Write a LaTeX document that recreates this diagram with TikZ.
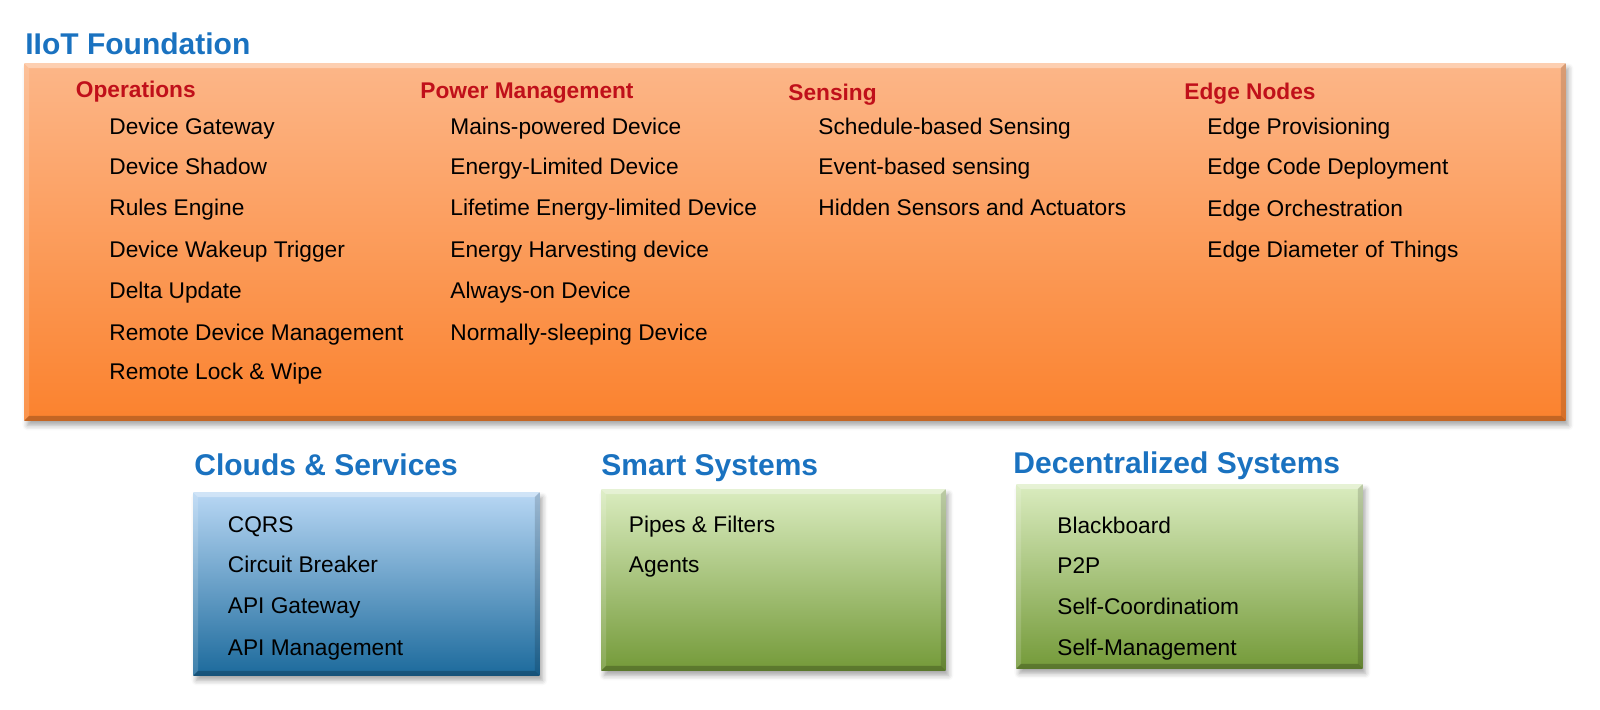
\documentclass[tikz,border=0pt]{standalone}
\usepackage{fontspec}
\setmainfont{Liberation Sans}
\usetikzlibrary{shadows.blur,calc}
\definecolor{ttlblue}{HTML}{1A72C0}
\definecolor{hdrred}{HTML}{C0101A}
\definecolor{orTop}{HTML}{FCB688}
\definecolor{orBot}{HTML}{FB822E}
\definecolor{blTop}{HTML}{B8D7F4}
\definecolor{blBot}{HTML}{1C6A9C}
\definecolor{grTop}{HTML}{DAECBF}
\definecolor{grBot}{HTML}{749A39}
\newcommand\bevelbox[1]{%
  \fill[white,opacity=.35] (#1.north west) -- (#1.north east) -- ($(#1.north east)+(-5,5)$) -- ($(#1.north west)+(5,5)$) -- cycle;
  \fill[white,opacity=.15] (#1.north west) -- ($(#1.north west)+(5,5)$) -- ($(#1.south west)+(5,-5)$) -- (#1.south west) -- cycle;
  \fill[black,opacity=.22] (#1.south west) -- ($(#1.south west)+(5,-5)$) -- ($(#1.south east)+(-5,-5)$) -- (#1.south east) -- cycle;
  \fill[black,opacity=.14] (#1.north east) -- (#1.south east) -- ($(#1.south east)+(-5,-5)$) -- ($(#1.north east)+(-5,5)$) -- cycle;
}
\begin{document}
\begin{tikzpicture}[x=0.5pt,y=-0.5pt,
  panel/.style={anchor=north west, inner sep=0pt, draw=none,
    blur shadow={shadow xshift=1.5pt, shadow yshift=-2.5pt, shadow blur radius=2.5pt, shadow opacity=35}},
  item/.style={anchor=base west, inner sep=0pt, font=\fontsize{11.35}{13}\selectfont, text=black},
  hdr/.style={anchor=base west, inner sep=0pt, font=\bfseries\fontsize{11.35}{13}\selectfont, text=hdrred},
  ttl/.style={anchor=base west, inner sep=0pt, font=\bfseries\fontsize{15}{18}\selectfont, text=ttlblue}]
\useasboundingbox (0,0) rectangle (1600,709);

% panels
\node[panel, minimum width=770.5pt, minimum height=178.5pt, top color=orTop, bottom color=orBot] (foundation) at (24,63) {};
\bevelbox{foundation}
\node[panel, minimum width=173pt, minimum height=91.5pt, top color=blTop, bottom color=blBot] (clouds) at (193,492) {};
\bevelbox{clouds}
\node[panel, minimum width=172pt, minimum height=90.5pt, top color=grTop, bottom color=grBot] (smart) at (601,489) {};
\bevelbox{smart}
\node[panel, minimum width=173pt, minimum height=92pt, top color=grTop, bottom color=grBot] (decent) at (1016,484) {};
\bevelbox{decent}

% titles
\node[ttl] (tFound) at (25,54) {IIoT Foundation};
\node[ttl] (tClouds) at (194,475) {Clouds \& Services};
\node[ttl] (tSmart) at (601,475) {Smart Systems};
\node[ttl] (tDecent) at (1013,473) {Decentralized Systems};

% headers
\node[hdr] (hOps) at (75.5,97) {Operations};
\node[hdr] (hPow) at (420,98) {Power Management};
\node[hdr] (hSen) at (788,100) {Sensing};
\node[hdr] (hEdge) at (1184,99) {Edge Nodes};

% operations
\node[item] (o1) at (109,134) {Device Gateway};
\node[item] (o2) at (109,174) {Device Shadow};
\node[item] (o3) at (109,215) {Rules Engine};
\node[item] (o4) at (109,257) {Device Wakeup Trigger};
\node[item] (o5) at (109,298) {Delta Update};
\node[item] (o6) at (109,340) {Remote Device Management};
\node[item] (o7) at (109,379) {Remote Lock \& Wipe};

% power
\node[item] (p1) at (450,134) {Mains-powered Device};
\node[item] (p2) at (450,174) {Energy-Limited Device};
\node[item] (p3) at (450,215) {Lifetime Energy-limited Device};
\node[item] (p4) at (450,257) {Energy Harvesting device};
\node[item] (p5) at (450,298) {Always-on Device};
\node[item] (p6) at (450,340) {Normally-sleeping Device};

% sensing
\node[item] (s1) at (818,134) {Schedule-based Sensing};
\node[item] (s2) at (818,174) {Event-based sensing};
\node[item] (s3) at (818,215) {Hidden Sensors and Actuators};

% edge
\node[item] (e1) at (1207,134) {Edge Provisioning};
\node[item] (e2) at (1207,174) {Edge Code Deployment};
\node[item] (e3) at (1207,216) {Edge Orchestration};
\node[item] (e4) at (1207,257) {Edge Diameter of Things};

% clouds
\node[item] (c1) at (227.5,532) {CQRS};
\node[item] (c2) at (227.5,572) {Circuit Breaker};
\node[item] (c3) at (227.5,613) {API Gateway};
\node[item] (c4) at (227.5,655) {API Management};

% smart
\node[item] (m1) at (628.5,532) {Pipes \& Filters};
\node[item] (m2) at (628.5,572) {Agents};

% decentralized
\node[item] (d1) at (1057,533) {Blackboard};
\node[item] (d2) at (1057,573) {P2P};
\node[item] (d3) at (1057,614) {Self-Coordinatiom};
\node[item] (d4) at (1057,655) {Self-Management};
\end{tikzpicture}
\end{document}
